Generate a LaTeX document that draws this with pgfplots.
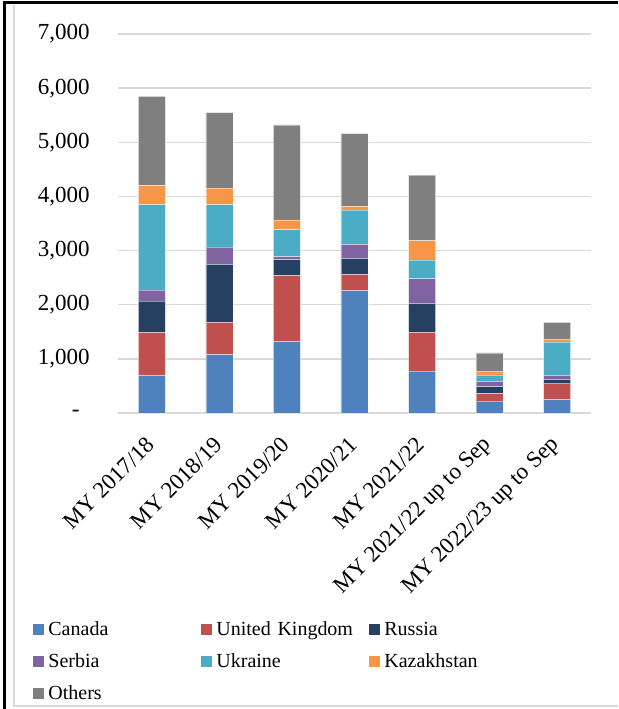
\documentclass[border=0pt]{standalone}
\usepackage{fontspec}
\setmainfont{Liberation Serif}
\usepackage{pgfplots}
\pgfplotsset{compat=1.18}
\definecolor{cCanada}{HTML}{4F81BD}
\definecolor{cUK}{HTML}{C0504D}
\definecolor{cRussia}{HTML}{254061}
\definecolor{cSerbia}{HTML}{8064A2}
\definecolor{cUkraine}{HTML}{4BACC6}
\definecolor{cKaz}{HTML}{F79646}
\definecolor{cOthers}{HTML}{7F7F7F}
\definecolor{gridgray}{HTML}{D9D9D9}
\begin{document}
\begin{tikzpicture}
\path[use as bounding box] (0,0) rectangle (309pt,354.5pt);
\draw[gridgray, line width=0.75pt] (7pt,352pt) -- (7pt,1.5pt) -- (309pt,1.5pt);
\draw[black, line width=1.5pt] (2.15pt,0) -- (2.15pt,353.25pt) -- (309pt,353.25pt);
\begin{axis}[
  at={(59pt,148pt)}, anchor=south west,
  scale only axis, width=236.5pt, height=189.5pt,
  ybar stacked, bar width=13.5pt,
  xmin=-0.5, xmax=6.5, ymin=0, ymax=7000,
  xtick={0,1,2,3,4,5,6},
  xticklabels={MY 2017/18, MY 2018/19, MY 2019/20, MY 2020/21, MY 2021/22, MY 2021/22 up to Sep, MY 2022/23 up to Sep},
  ytick={0,1000,2000,3000,4000,5000,6000,7000},
  yticklabels={{-\hspace*{5pt}},{1,000},{2,000},{3,000},{4,000},{5,000},{6,000},{7,000}},
  major tick length=0pt,
  axis lines*=left,
  y axis line style={draw=none},
  x axis line style={draw=gridgray, line width=0.75pt},
  ymajorgrids, grid style={draw=gridgray, line width=0.75pt},
  yticklabel style={font=\rmfamily\fontsize{11.5}{13.8}\selectfont, anchor=east, inner sep=0pt, xshift=-14pt},
  xticklabel style={font=\rmfamily\fontsize{11.5}{13.8}\selectfont, yshift=-14pt, xshift=-0.5pt, rotate=45, anchor=east, inner sep=0pt},
  legend columns=3,
  legend cell align=left,
  legend image code/.code={\fill[#1, draw=none] (0pt,-2.2pt) rectangle (5.5pt,3.3pt);},
  legend style={at={(-0.1797,-0.546)}, anchor=north west, draw=none, fill=none, inner sep=0pt,
    font=\rmfamily\fontsize{10}{12}\selectfont, row sep=6pt, column sep=0pt,
    nodes={inner xsep=2pt, inner ysep=0pt, text height=7.5pt, text depth=2.5pt, text width=74.5pt, align=left}},
  every axis plot/.append style={draw=white, draw opacity=0.45, line width=0.35pt},
]
\addplot[fill=cCanada] coordinates {(0,697) (1,1076) (2,1321) (3,2257) (4,773) (5,221) (6,245)};
\addplot[fill=cUK] coordinates {(0,789) (1,600) (2,1217) (3,300) (4,718) (5,135) (6,307)};
\addplot[fill=cRussia] coordinates {(0,581) (1,1070) (2,294) (3,299) (4,534) (5,129) (6,68)};
\addplot[fill=cSerbia] coordinates {(0,202) (1,318) (2,55) (3,257) (4,454) (5,98) (6,73)};
\addplot[fill=cUkraine] coordinates {(0,1578) (1,783) (2,501) (3,636) (4,349) (5,116) (6,614)};
\addplot[fill=cKaz] coordinates {(0,355) (1,306) (2,178) (3,68) (4,356) (5,74) (6,61)};
\addplot[fill=cOthers] coordinates {(0,1645) (1,1394) (2,1755) (3,1345) (4,1209) (5,337) (6,307)};
\legend{Canada, United Kingdom, Russia, Serbia, Ukraine, Kazakhstan, Others}
\end{axis}
\end{tikzpicture}
\end{document}
